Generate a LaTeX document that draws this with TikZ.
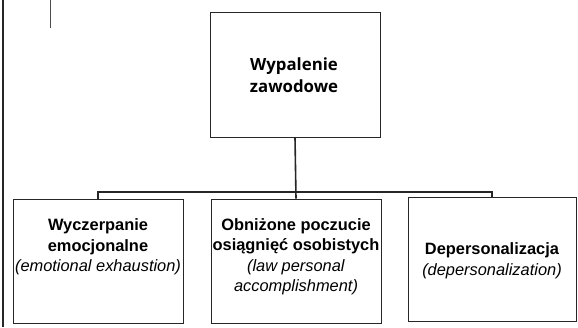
\documentclass[tikz,border=0pt]{standalone}
\usepackage{fontspec}
\setmainfont{Liberation Sans}
\newfontfamily\topfont{Open Sans}
\begin{document}
\begin{tikzpicture}[x=1pt,y=-1pt,
  box/.style={draw=black!85,line width=0.9pt,minimum width=170pt,minimum height=124pt,inner sep=0pt},
  conn/.style={draw=black!85,line width=1.6pt},
  lbl/.style={align=center,font=\fontsize{16.4}{20.5}\selectfont,inner sep=0pt},
  toplbl/.style={align=center,font=\topfont\bfseries\fontsize{16.8}{22}\selectfont,inner sep=0pt}]
\useasboundingbox (0,0) rectangle (578,327);
\draw[conn] (3,0) -- (3,327);
\draw[draw=black!70,line width=1pt] (50,0) -- (50,28);
\node[box,minimum height=125pt] (top) at (295,74.5) {};
\node[box] (left) at (98,261) {};
\node[box] (mid) at (296,261) {};
\node[box,minimum width=168pt] (right) at (492,259) {};
\coordinate (bus) at (295,192);
\draw[conn] (top.south) -- (mid.north);
\draw[conn] (left.north) -- (left.north |- bus) -- (right.north |- bus) -- (right.north);
\node[toplbl] (tt) at (294,75) {Wypalenie\\zawodowe};
\node[lbl] (lt) at (98,247) {\textbf{Wyczerpanie}\\\textbf{emocjonalne}\\\textit{(emotional exhaustion)}};
\node[lbl] (mt) at (296,257) {\textbf{Obniżone poczucie}\\\textbf{osiągnięć osobistych}\\\textit{(law personal}\\\textit{accomplishment)}};
\node[lbl] (rt) at (492,261) {\textbf{Depersonalizacja}\\\textit{(depersonalization)}};
\end{tikzpicture}
\end{document}
